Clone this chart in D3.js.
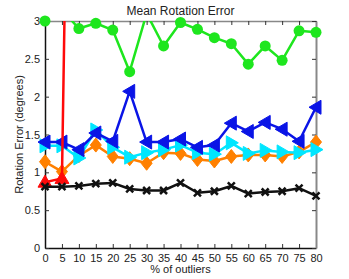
<!DOCTYPE html>
<html lang="en">
<head>
<meta charset="utf-8">
<title>Mean Rotation Error</title>
<script src="https://d3js.org/d3.v7.min.js"></script>
<style>
  body { margin: 0; background: #fff; }
  text { font-family: "Liberation Sans", Arial, sans-serif; fill: #222; }
  .tick text { font-size: 11px; }
</style>
</head>
<body>
<script>
// chart size
const W = 349, H = 279;
const margin = {left: 45, right: 33, top: 21, bottom: 31};

// data
const outliers = [0, 5, 10, 15, 20, 25, 30, 35, 40, 45, 50, 55, 60, 65, 70, 75, 80];
const greenErr  = [3.00, 3.15, 2.90, 2.97, 2.88, 2.33, 3.10, 2.67, 2.98, 2.89, 2.78, 2.70, 2.43, 2.67, 2.48, 2.87, 2.85];
const redErr    = [0.87, 0.92, 15, 18, 20, 22, 25, 27, 30, 32, 35, 37, 40, 42, 45, 47, 50];
const orangeErr = [1.14, 1.01, 1.22, 1.36, 1.21, 1.18, 1.12, 1.26, 1.25, 1.17, 1.15, 1.21, 1.23, 1.23, 1.21, 1.27, 1.40];
const cyanErr   = [1.35, 1.35, 1.19, 1.56, 1.33, 1.20, 1.26, 1.30, 1.36, 1.26, 1.24, 1.39, 1.25, 1.29, 1.27, 1.26, 1.30];
const blueErr   = [1.40, 1.40, 1.30, 1.52, 1.41, 2.07, 1.40, 1.40, 1.44, 1.33, 1.36, 1.65, 1.54, 1.66, 1.57, 1.41, 1.86];
const blackErr  = [0.81, 0.81, 0.82, 0.85, 0.86, 0.78, 0.76, 0.76, 0.86, 0.73, 0.75, 0.82, 0.72, 0.74, 0.75, 0.79, 0.69];
const yTicks = [0, 0.5, 1, 1.5, 2, 2.5, 3];

const x = d3.scaleLinear().domain([0, 80]).range([margin.left, W - margin.right]);
const y = d3.scaleLinear().domain([0, 3]).range([H - margin.bottom, margin.top]);

const svg = d3.select("body").append("svg")
    .attr("width", W)
    .attr("height", H);

svg.append("defs").append("clipPath").attr("id", "plot")
  .append("rect")
    .attr("x", margin.left).attr("y", margin.top)
    .attr("width", W - margin.left - margin.right)
    .attr("height", H - margin.top - margin.bottom);

// axes (ticks point inward, like matlab)
const gx = svg.append("g")
    .attr("transform", "translate(0," + (H - margin.bottom) + ")")
    .call(d3.axisBottom(x).tickValues(outliers).tickSizeInner(-4).tickSizeOuter(0).tickPadding(6));
const gy = svg.append("g")
    .attr("transform", "translate(" + margin.left + ",0)")
    .call(d3.axisLeft(y).tickValues(yTicks).tickFormat(d3.format("")).tickSizeInner(-4).tickSizeOuter(0).tickPadding(5));
const gt = svg.append("g")
    .attr("transform", "translate(0," + margin.top + ")")
    .call(d3.axisTop(x).tickValues(outliers).tickFormat("").tickSizeInner(-4).tickSizeOuter(0));
const gr = svg.append("g")
    .attr("transform", "translate(" + (W - margin.right) + ",0)")
    .call(d3.axisRight(y).tickValues(yTicks).tickFormat("").tickSizeInner(-4).tickSizeOuter(0));
gx.selectAll("path").attr("stroke", "#111").attr("stroke-width", 1.5);
gy.selectAll("path").attr("stroke", "#111").attr("stroke-width", 1.5);
gt.selectAll("path").attr("stroke", "#888").attr("stroke-width", 1.5);
gr.selectAll("path").attr("stroke", "#888").attr("stroke-width", 2);
svg.selectAll(".tick line").attr("stroke", "#333");
svg.selectAll(".tick text").attr("fill", "#222");

// series, bottom to top
const series = [
  {vals: greenErr,  color: "#1ee61e", marker: "circle"},
  {vals: orangeErr, color: "#ff8000", marker: "diamond"},
  {vals: cyanErr,   color: "#00e6ff", marker: "right"},
  {vals: blueErr,   color: "#0a14e6", marker: "left"},
  {vals: redErr,    color: "#ff0a0a", marker: "up"},
  {vals: blackErr,  color: "#111111", marker: "cross"}
];

const line = d3.line().x((d, i) => x(outliers[i])).y(d => y(d));

function markerPath(kind) {
  if (kind === "diamond") return "M0,-7L5.5,0L0,7L-5.5,0Z";
  if (kind === "right") return "M7,0L-5,-7L-5,7Z";
  if (kind === "left") return "M-7,0L5,-7L5,7Z";
  if (kind === "up") return "M0,-7L7,5L-7,5Z";
  return "M-3.5,-3.5L3.5,3.5M-3.5,3.5L3.5,-3.5";
}

series.forEach(s => {
  const g = svg.append("g");
  g.append("path")
    .attr("clip-path", "url(#plot)")
    .attr("d", line(s.vals))
    .attr("fill", "none")
    .attr("stroke", s.color)
    .attr("stroke-width", 2.5)
    .attr("stroke-linejoin", "round");

  const pts = s.vals.map((v, i) => ({x: outliers[i], v: v})).filter(p => p.v <= 3);
  if (s.marker === "circle") {
    g.selectAll("circle").data(pts).enter().append("circle")
      .attr("cx", d => x(d.x)).attr("cy", d => y(d.v))
      .attr("r", 5.5).attr("fill", s.color);
  } else {
    g.selectAll(".m").data(pts).enter().append("path")
      .attr("class", "m")
      .attr("transform", d => "translate(" + x(d.x) + "," + y(d.v) + ")")
      .attr("d", markerPath(s.marker))
      .attr("fill", s.marker === "cross" ? "none" : s.color)
      .attr("stroke", s.color)
      .attr("stroke-width", s.marker === "cross" ? 2.5 : 1);
  }
});

// titles
svg.append("text")
    .attr("x", (margin.left + W - margin.right) / 2).attr("y", 15)
    .attr("text-anchor", "middle")
    .style("font-size", "12px")
    .text("Mean Rotation Error");
svg.append("text")
    .attr("x", (margin.left + W - margin.right) / 2).attr("y", 273)
    .attr("text-anchor", "middle")
    .style("font-size", "11px")
    .text("% of outliers");
svg.append("text")
    .attr("transform", "translate(23," + ((margin.top + H - margin.bottom) / 2) + ") rotate(-90)")
    .attr("text-anchor", "middle")
    .style("font-size", "11px")
    .text("Rotation Error (degrees)");
</script>
</body>
</html>
